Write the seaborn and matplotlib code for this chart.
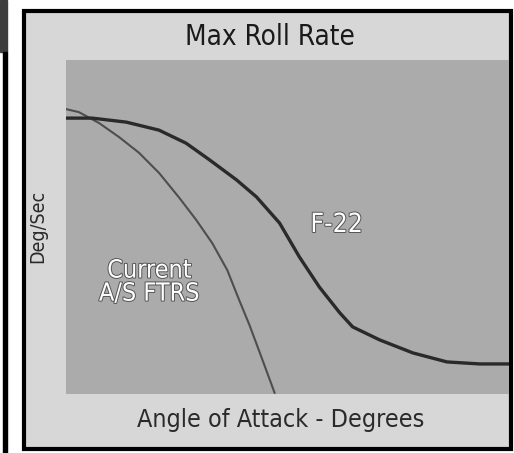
import matplotlib
matplotlib.use("Agg")
import matplotlib.pyplot as plt
import matplotlib.patheffects as pe
from matplotlib.patches import Rectangle
import seaborn as sns
import pandas as pd

# curves (angle of attack %, roll rate %)
f22_aoa = [0, 5.9, 13.6, 21.0, 27.1, 32.4, 38.5, 43.0, 48.2, 52.7, 57.2, 61.8, 64.7, 70.8, 78.3, 86.0, 93.4, 100]
f22_rate = [82.6, 82.6, 81.4, 79.0, 75.1, 70.1, 64.1, 59.0, 51.2, 41.0, 32.0, 24.3, 20.1, 16.2, 12.3, 9.6, 9.0, 9.0]

cur_aoa = [0, 2.9, 7.5, 12.0, 16.5, 21.0, 25.6, 29.4, 33.0, 36.4, 39.1, 41.4, 44.1, 47.1]
cur_rate = [85.3, 84.4, 81.1, 76.9, 72.2, 66.2, 58.7, 52.1, 45.2, 37.1, 28.1, 20.7, 11.1, 0.3]

sns.set_style("white")
plt.rcParams['font.family'] = ['DejaVu Sans']
plt.rcParams['font.stretch'] = 'condensed'

W, H = 514, 453
fig = plt.figure(figsize=(W / 100, H / 100), dpi=100)
fig.patch.set_facecolor('white')


def px(x0, y0, x1, y1):
    # pixel box -> figure fraction (left, bottom, width, height)
    return x0 / W, 1 - y1 / H, (x1 - x0) / W, (y1 - y0) / H


# left strip
l, b, w, h = px(0, 0, 7, 52)
fig.patches.append(Rectangle((l, b), w, h, transform=fig.transFigure, color='#3c3c3c', zorder=0))
l, b, w, h = px(3, 52, 7, H)
fig.patches.append(Rectangle((l, b), w, h, transform=fig.transFigure, color='black', zorder=0))
# outer frame
l, b, w, h = px(24, 11, 511, 449)
fig.patches.append(Rectangle((l, b), w, h, transform=fig.transFigure, facecolor='#d7d7d7',
                             edgecolor='black', linewidth=3, zorder=0))

ax = fig.add_axes(px(66, 60, 509, 394))
ax.set_zorder(2)
ax.set_facecolor('#ababab')

df = pd.concat([
    pd.DataFrame({'aoa': f22_aoa, 'rate': f22_rate, 'jet': 'F-22'}),
    pd.DataFrame({'aoa': cur_aoa, 'rate': cur_rate, 'jet': 'Current'}),
])
sns.lineplot(data=df[df.jet == 'Current'], x='aoa', y='rate', color='#4e4e4e', linewidth=1.5, ax=ax, legend=False)
sns.lineplot(data=df[df.jet == 'F-22'], x='aoa', y='rate', color='#2a2a2a', linewidth=2.4, ax=ax, legend=False)

ax.set_xlim(0, 100)
ax.set_ylim(0, 100)
ax.set_xticks([])
ax.set_yticks([])
ax.set_xlabel('')
ax.set_ylabel('')
for s in ax.spines.values():
    s.set_visible(False)

emb = [pe.Stroke(linewidth=1.4, foreground='#555555'), pe.Normal()]
ax.text(61.1, 50.6, 'F-22', color='white', fontsize=19, ha='center', va='center', path_effects=emb)
ax.text(18.8, 33.5, 'Current\nA/S FTRS', color='white', fontsize=18, ha='center', va='center',
        linespacing=0.95, path_effects=emb)

fig.text(270 / W, 1 - 37 / H, 'Max Roll Rate', fontsize=20, ha='center', va='center', color='#1a1a1a')
fig.text(281 / W, 1 - 420 / H, 'Angle of Attack - Degrees', fontsize=18, ha='center', va='center', color='#2a2a2a')
fig.text(38 / W, 1 - 226 / H, 'Deg/Sec', fontsize=14, ha='center', va='center', rotation=90, color='#2a2a2a')

fig.savefig('out.png', dpi=100)
